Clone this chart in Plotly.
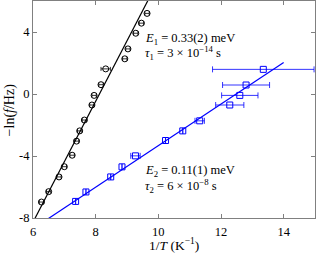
import numpy as np
import plotly.graph_objects as go

# Series 1 (black circles)
x1 = [6.27, 6.50, 6.83, 7.00, 7.25, 7.39, 7.49, 7.64, 7.88, 7.95, 8.17, 8.32, 8.93, 9.03, 9.28, 9.46, 9.64]
y1 = [-6.97, -6.30, -5.35, -4.69, -3.95, -3.04, -2.38, -1.68, -0.71, -0.09, 0.60, 1.62, 2.27, 2.91, 3.92, 4.57, 5.20]
ex1 = [0.07, 0.07, 0.07, 0.07, 0.07, 0.07, 0.07, 0.07, 0.07, 0.07, 0.07, 0.15, 0.07, 0.07, 0.07, 0.07, 0.07]

# Series 2 (blue squares)
x2 = [7.36, 7.69, 8.48, 8.84, 9.27, 10.23, 10.78, 11.32, 12.28, 12.60, 12.80, 13.35]
y2 = [-6.93, -6.32, -5.35, -4.70, -3.99, -3.00, -2.38, -1.73, -0.71, -0.09, 0.58, 1.59]
ex2 = [0.0, 0.0, 0.0, 0.0, 0.15, 0.0, 0.0, 0.15, 0.45, 0.58, 0.75, 1.62]

# Arrhenius fits: slope, intercept, x-span
fit1 = dict(slope=3.90, intercept=-31.67, xmin=6.0, xmax=10.0)
fit2 = dict(slope=1.341, intercept=-16.74, xmin=6.3, xmax=14.0)

xticks = [6, 8, 10, 12, 14]
yticks = [-8, -4, 0, 4]
yticklabels = ["-8", "-4", "0", "4"]

FONT = "Liberation Serif"
AX = "#808080"

fig = go.Figure()

for f, c in [(fit1, "black"), (fit2, "#0000ff")]:
    xs = np.array([f["xmin"], f["xmax"]])
    fig.add_trace(go.Scatter(x=xs, y=f["slope"] * xs + f["intercept"], mode="lines",
                             line=dict(color=c, width=1.2), showlegend=False, hoverinfo="skip"))

fig.add_trace(go.Scatter(
    x=x1, y=y1, mode="markers",
    marker=dict(symbol="circle-open", size=6, color="black", line=dict(width=1)),
    error_x=dict(type="data", array=ex1, color="black", thickness=0.8, width=2),
    showlegend=False))

fig.add_trace(go.Scatter(
    x=x2, y=y2, mode="markers",
    marker=dict(symbol="square-open", size=6, color="#0000ff", line=dict(width=1)),
    error_x=dict(type="data", array=ex2, color="#0000ff", thickness=0.8, width=3),
    showlegend=False))

ann = [
    (9.52, 3.58, "<i>E</i><sub>1</sub> = 0.33(2) meV"),
    (9.52, 2.67, "<i>τ</i><sub>1</sub> = 3 × 10<sup>−14</sup> s"),
    (9.52, -4.96, "<i>E</i><sub>2</sub> = 0.11(1) meV"),
    (9.52, -5.92, "<i>τ</i><sub>2</sub> = 6 × 10<sup>−8</sup> s"),
]
for x, y, t in ann:
    fig.add_annotation(x=x, y=y, text=t, showarrow=False, xanchor="left", yanchor="middle",
                       font=dict(family=FONT, size=12.5, color="black"))

# axis titles
fig.add_annotation(xref="paper", yref="paper", x=0.5, y=-0.124, text="1/<i>T</i> (K<sup>−1</sup>)",
                   showarrow=False, xanchor="center", yanchor="middle",
                   font=dict(family=FONT, size=13.5, color="black"))
fig.add_annotation(xref="paper", yref="paper", x=-0.082, y=0.5, text="−ln(<i>f</i>/Hz)", textangle=-90,
                   showarrow=False, xanchor="center", yanchor="middle",
                   font=dict(family=FONT, size=14, color="black"))

axis_common = dict(showgrid=False, zeroline=False, showline=True, linecolor=AX, linewidth=1,
                   mirror="ticks", ticks="inside", ticklen=4, tickcolor=AX, automargin=False,
                   tickfont=dict(family=FONT, size=12.5, color="black"))

fig.update_xaxes(range=[6, 15], tickvals=xticks, ticklabelstandoff=2, **axis_common)
fig.update_yaxes(range=[-8, 6], tickvals=yticks, ticktext=yticklabels, **axis_common)

fig.update_layout(width=316, height=253, margin=dict(l=33, r=1, t=1, b=35),
                  paper_bgcolor="white", plot_bgcolor="white", showlegend=False)

fig.write_html("out.html", config={"displayModeBar": False},
               post_script="document.body.style.margin='0';document.body.style.overflow='hidden';")
